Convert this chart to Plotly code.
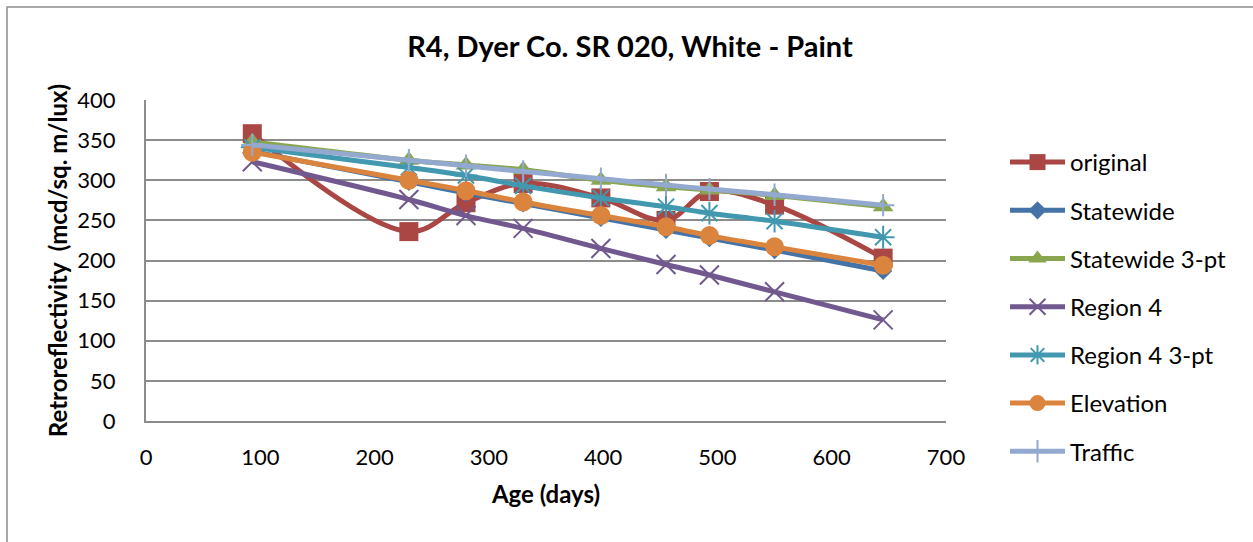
import plotly.graph_objects as go

days = [93, 230, 280, 330, 398, 455, 493, 550, 645]
original = [358, 236, 272, 296, 278, 250, 286, 269, 203]
statewide = [336, 298, 284, 271, 253, 238, 228, 213, 187]
statewide_3pt = [348, 325, 319, 313, 300, 292, 288, 281, 267]
region4 = [323, 276, 256, 240, 215, 195, 182, 161, 126]
region4_3pt = [341, 316, 306, 293, 278, 267, 259, 249, 229]
elevation = [335, 300, 287, 273, 256, 242, 231, 217, 194]
traffic = [344, 325, 318, 311, 302, 294, 289, 282, 269]

series_names = ["original", "Statewide", "Statewide 3-pt", "Region 4",
                "Region 4 3-pt", "Elevation", "Traffic"]
series_values = [original, statewide, statewide_3pt, region4,
                 region4_3pt, elevation, traffic]
colors = ["#AA4643", "#4572A7", "#89A54E", "#71588F", "#4198AF", "#DB843D", "#93A9CF"]
symbols = ["square", "diamond", "triangle-up", "x-thin", "asterisk", "circle", "cross-thin"]
sizes = [19, 14, 18, 19, 19, 19, 16]

FONT = "Lato"

fig = go.Figure()
for i, (name, vals) in enumerate(zip(series_names, series_values)):
    sym = symbols[i]
    thin = sym in ("x-thin", "asterisk", "cross-thin")
    marker = dict(symbol=sym, size=sizes[i], color=colors[i])
    if thin:
        marker["line"] = dict(color=colors[i], width=2)
    else:
        marker["line"] = dict(width=0)
    fig.add_trace(go.Scatter(
        x=days, y=vals, name=name, mode="lines+markers",
        line=dict(color=colors[i], width=5, shape="spline", smoothing=1.0),
        marker=marker, legendgroup=name,
    ))

fig.update_layout(
    width=1253, height=542,
    margin=dict(l=146, r=307, t=100, b=121),
    paper_bgcolor="white", plot_bgcolor="white",
    font=dict(family=FONT, size=22, color="black"),
    title=dict(text="<b>R4, Dyer Co. SR 020, White - Paint</b>",
               x=(630 / 1253), xanchor="center", y=1 - 47 / 542, yanchor="middle",
               xref="container", yref="container",
               font=dict(family=FONT, size=29, color="black")),
    showlegend=True,
    legend=dict(x=(1005 - 146) / 800, xanchor="left", y=(421 - 140) / 321, yanchor="top",
                font=dict(family=FONT, size=24, color="black"),
                tracegroupgap=14, itemwidth=55, maxheight=520,
                bgcolor="rgba(0,0,0,0)"),
)
fig.update_xaxes(
    range=[0, 700], dtick=100, tick0=0,
    showgrid=False, zeroline=False,
    showline=True, linecolor="#8C8C8C", linewidth=2,
    ticks="outside", ticklen=16, tickcolor="rgba(0,0,0,0)",
    tickfont=dict(family=FONT, size=22),
    title=dict(text="<b>Age (days)</b>", font=dict(family=FONT, size=24), standoff=17),
)
fig.update_yaxes(
    range=[0, 400], dtick=50, tick0=0,
    showgrid=True, gridcolor="#8C8C8C", gridwidth=2,
    zeroline=False,
    showline=True, linecolor="#8C8C8C", linewidth=2,
    ticks="outside", ticklen=24, tickcolor="rgba(0,0,0,0)",
    tickfont=dict(family=FONT, size=22),
    title=dict(text="<b>Retroreflectivity\u00a0\u00a0(mcd/sq. m/lux)</b>",
               font=dict(family=FONT, size=24), standoff=3),
)
# outer chart border
fig.add_shape(type="rect", xref="paper", yref="paper",
              x0=(7 - 146) / 800, x1=(1300 - 146) / 800,
              y0=(421 - 600) / 321, y1=(421 - 7) / 321,
              line=dict(color="#8C8C8C", width=1.5), fillcolor="rgba(0,0,0,0)", layer="below")

fig.write_html("out.html")
